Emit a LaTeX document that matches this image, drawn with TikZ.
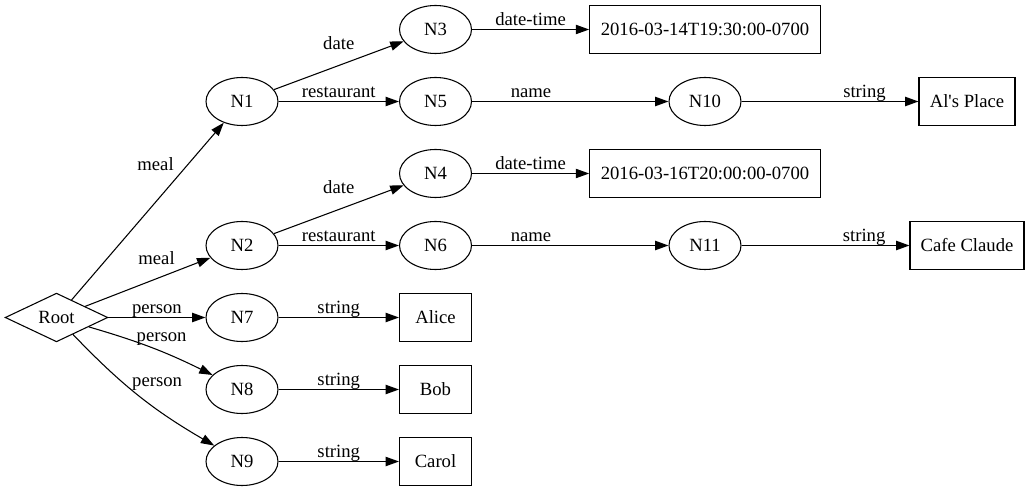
\documentclass[tikz,border=0pt]{standalone}
\usepackage{fontspec}
\setmainfont{Liberation Serif}
\usetikzlibrary{shapes.geometric,arrows.meta}

\begin{document}
\begin{tikzpicture}[x=0.75pt, y=-0.75pt,
  every node/.style={font=\fontsize{14pt}{16pt}\selectfont},
  ell/.style={draw, ellipse, line width=0.8pt, minimum width=54pt, minimum height=36pt, inner sep=0pt},
  val/.style={draw, rectangle, line width=0.8pt, minimum height=36pt, inner sep=0pt},
  lbl/.style={inner sep=0.25pt, text height=10pt, text depth=2pt},
  arr/.style={-{Triangle[length=10pt,width=7pt]}, line width=0.8pt}]
\useasboundingbox (0,0) rectangle (1030,491);
% nodes
\node[draw, diamond, line width=0.8pt, minimum width=77pt, minimum height=36pt, inner sep=0pt] (root) at (56.5,317.5) {Root};
\node[ell] (n1) at (242,101.5) {N1};
\node[ell] (n2) at (242,245.5) {N2};
\node[ell] (n7) at (242,317.5) {N7};
\node[ell] (n8) at (242,389.5) {N8};
\node[ell] (n9) at (242,461.5) {N9};
\node[ell] (n3) at (435.5,29.5) {N3};
\node[ell] (n5) at (435.5,101.5) {N5};
\node[ell] (n4) at (435.5,173.5) {N4};
\node[ell] (n6) at (435.5,245.5) {N6};
\node[val, minimum width=54pt] (alice) at (435.5,317.5) {Alice};
\node[val, minimum width=54pt] (bob) at (435.5,389.5) {Bob};
\node[val, minimum width=54pt] (carol) at (435.5,461.5) {Carol};
\node[val, minimum width=173pt] (t1) at (705,29.5) {2016-03-14T19:30:00-0700};
\node[val, minimum width=173pt] (t2) at (705,173.5) {2016-03-16T20:00:00-0700};
\node[ell] (n10) at (705,101.5) {N10};
\node[ell] (n11) at (705,245.5) {N11};
\node[val, minimum width=72pt] (alp) at (967,101.5) {Al\textquotesingle s Place};
\node[val, minimum width=85.5pt] (cafe) at (967,245.5) {Cafe Claude};
% edges from the root
\draw[arr] (root) -- (n1) node[lbl, pos=0.76, left=9.5pt] {meal};
\draw[arr] (root) -- (n2) node[lbl, pos=0.57, above=7.75pt] {meal};
\draw[arr] (root) -- (n7) node[lbl, midway, above] {person};
\draw[arr] (root) to[bend left=5] node[lbl, pos=0.36, anchor=base west] {person} (n8);
\draw[arr] (root) to[bend right=8] node[lbl, pos=0.44, anchor=south west] {person} (n9);
% first meal
\draw[arr] (n1) -- (n3) node[lbl, midway, above=9pt] {date};
\draw[arr] (n1) -- (n5) node[lbl, midway, above] {restaurant};
\draw[arr] (n3) -- (t1) node[lbl, midway, above] {date-time};
\draw[arr] (n5) -- (n10) node[lbl, pos=0.3, above] {name};
\draw[arr] (n10) -- (alp) node[lbl, pos=0.695, above] {string};
% second meal
\draw[arr] (n2) -- (n4) node[lbl, midway, above=9pt] {date};
\draw[arr] (n2) -- (n6) node[lbl, midway, above] {restaurant};
\draw[arr] (n4) -- (t2) node[lbl, midway, above] {date-time};
\draw[arr] (n6) -- (n11) node[lbl, pos=0.3, above] {name};
\draw[arr] (n11) -- (cafe) node[lbl, pos=0.73, above] {string};
% persons
\draw[arr] (n7) -- (alice) node[lbl, midway, above] {string};
\draw[arr] (n8) -- (bob) node[lbl, midway, above] {string};
\draw[arr] (n9) -- (carol) node[lbl, midway, above] {string};
\end{tikzpicture}
\end{document}
